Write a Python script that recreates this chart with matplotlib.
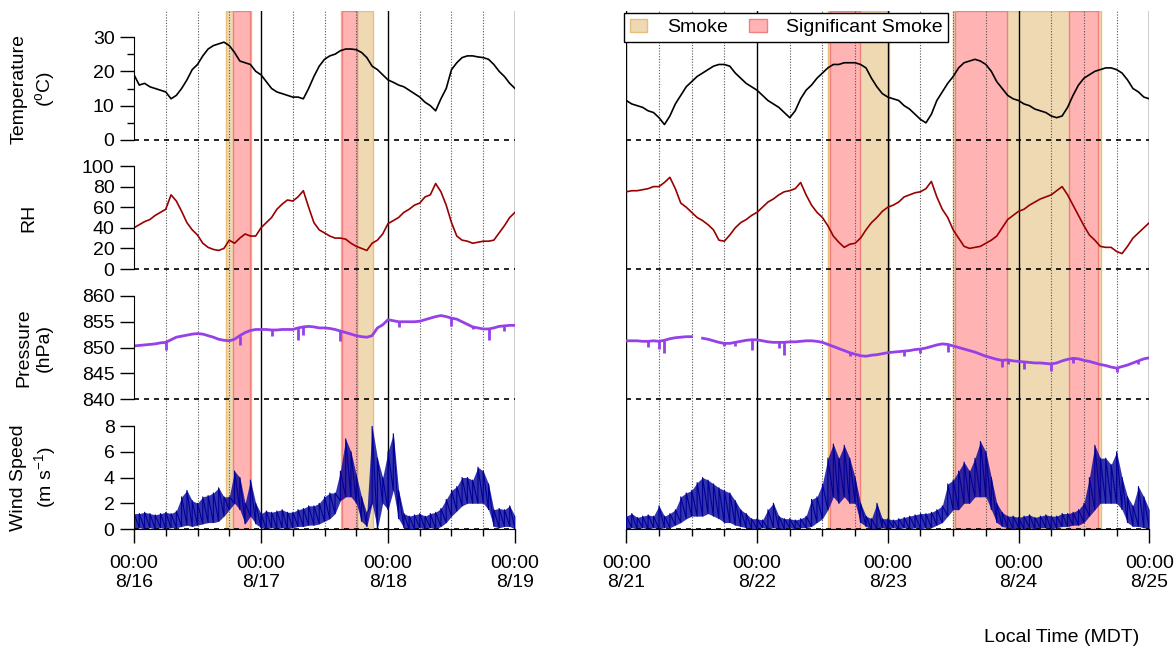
import numpy as np
import matplotlib.pyplot as plt
from matplotlib.patches import Patch

plt.rcParams['font.family'] = ['Liberation Sans', 'DejaVu Sans']
plt.rcParams['mathtext.default'] = 'regular'

# ---- hourly values, 8/16 00:00 - 8/19 00:00 (MDT) ----
temp_l = [19, 16, 16.5, 15.5, 15, 14.5, 14, 12, 13, 15, 17.5, 20.5, 22, 24.5, 26.5, 27.5,
          28, 28.5, 27.5, 25.5, 23, 22.5, 22, 20, 19, 17, 15, 14, 13.5, 13, 12.5, 12.5,
          12, 15, 18.5, 21.5, 23.5, 24.5, 25, 26, 26.5, 26.5, 26.3, 25.5, 24, 21.5, 20.5, 19,
          17.5, 16.8, 16, 15.5, 14.5, 13.5, 12.5, 11, 10, 8.5, 12, 15, 20.5, 22.5,
          24, 24.5, 24.5, 24.2, 24, 23.5, 22, 20, 18.5, 16.5, 15]
rh_l = [40, 43, 46, 48, 52, 55, 58, 72, 66, 56, 45, 38, 33, 25, 21, 19,
        18, 20, 28, 25, 30, 34, 32, 32, 40, 45, 50, 58, 63, 67, 66, 70,
        76, 60, 45, 38, 35, 32, 30, 30, 29, 25, 22, 20, 18, 25, 28, 34,
        44, 47, 50, 55, 58, 62, 64, 70, 72, 83, 75, 62, 45, 32,
        28, 27, 25, 26, 27, 27, 28, 35, 42, 50, 55]
pres_l = [850.3, 850.4, 850.5, 850.6, 850.7, 850.9, 851.0, 851.5, 852.0, 852.2, 852.4, 852.6,
          852.7, 852.6, 852.3, 852.0, 851.6, 851.4, 851.3, 851.6, 852.3, 852.9, 853.3, 853.5,
          853.5, 853.5, 853.4, 853.4, 853.5, 853.5, 853.5, 853.8, 854.0, 854.1, 854.0, 853.8,
          853.8, 853.7, 853.5, 853.2, 852.9, 852.6, 852.3, 852.1, 852.0, 852.3, 853.8, 854.4,
          855.4, 855.2, 855.0, 855.0, 855.0, 855.0, 855.1, 855.4, 855.7, 856.0, 856.2, 856.0,
          855.7, 855.5, 855.0, 854.5, 854.0, 853.8, 853.6, 853.6, 853.8, 854.1, 854.2, 854.3,
          854.3]
pres_dips_l = [(6, 849.5), (20, 850.5), (26, 852.3), (31, 851.5), (32, 852.4), (39, 851.3),
               (50, 854.0), (60, 854.2), (64, 853.5), (67, 851.5), (70, 853.2)]
wind_hi_l = [1.2, 1.2, 1.3, 1.2, 1.1, 1.2, 1.3, 1.2, 1.4, 2.5, 3.0, 2.2, 2.0, 2.5, 2.6, 2.8,
             3.2, 2.5, 2.5, 4.5, 4.0, 2.0, 3.8, 2.0, 1.2, 1.4, 1.3, 1.4, 1.5, 1.3, 1.3, 1.5,
             1.6, 1.8, 1.8, 2.0, 2.5, 2.8, 2.8, 4.5, 7.0, 6.0, 4.2, 2.5, 1.2, 8.0, 5.5, 4.0,
             6.0, 7.4, 3.0, 1.2, 1.0, 1.1, 1.2, 1.0, 1.2, 1.3, 1.6, 2.3, 3.0, 3.3,
             4.0, 4.0, 3.8, 4.8, 4.5, 3.5, 1.5, 1.6, 1.5, 1.8, 1.0]
wind_lo_l = [0.0, 0.1, 0.0, 0.1, 0.0, 0.1, 0.0, 0.1, 0.1, 0.2, 0.3, 0.2, 0.3, 0.4, 0.5, 0.5,
             0.6, 1.0, 1.5, 2.0, 1.5, 0.4, 1.0, 0.4, 0.1, 0.0, 0.1, 0.0, 0.1, 0.0, 0.1, 0.2,
             0.2, 0.3, 0.3, 0.4, 0.6, 0.8, 1.2, 2.2, 2.5, 2.5, 2.0, 0.6, 0.2, 2.0, 0.0, 2.0,
             1.5, 3.0, 0.8, 0.1, 0.0, 0.0, 0.1, 0.0, 0.1, 0.0, 0.2, 0.5, 1.0, 1.4,
             1.8, 2.0, 2.0, 2.0, 2.0, 1.5, 0.2, 0.1, 0.2, 0.2, 0.0]

# ---- hourly values, 8/21 00:00 - 8/25 00:00 (MDT) ----
temp_r = [11.5, 10.5, 10, 9.5, 8.5, 8, 6.5, 4.5, 7, 10.5, 13, 15.5, 17, 18.5, 19.5, 20.5,
          21.5, 22, 22, 21.5, 19.5, 18, 16.5, 15.5, 14.5, 13, 11.5, 10.5, 9.5, 8, 6.5, 8.5,
          12, 14.5, 16, 18, 19.5, 21, 22, 22, 22.5, 22.5, 22.5, 22, 21, 18, 15.5, 13.5,
          12.5, 12, 11.5, 10, 9, 7.5, 6, 5, 7.5, 11.5, 14, 16.5, 18.5, 21, 22.5, 23,
          23.5, 23, 22, 20, 17, 15, 13, 12, 11.5, 10.5, 10, 9, 8.5, 8, 7, 6.5,
          7, 9.5, 13, 16, 18, 19, 20, 20.5, 21, 21, 20.5, 19.5, 17.5, 15, 14, 12.5, 12]
rh_r = [75, 76, 76, 77, 78, 80, 80, 84, 89, 78, 64, 60, 55, 50, 47, 43,
        38, 28, 27, 33, 40, 45, 48, 52, 55, 60, 65, 68, 72, 75, 76, 78,
        84, 72, 62, 55, 50, 42, 32, 26, 21, 24, 25, 30, 38, 45, 50, 56,
        60, 62, 65, 70, 72, 74, 75, 78, 85, 70, 58, 50, 38, 30, 22, 20,
        21, 22, 25, 28, 32, 40, 48, 52, 56, 58, 62, 65, 68, 70, 72, 76,
        80, 72, 62, 52, 42, 33, 28, 22, 21, 21, 17, 15, 22, 30, 35, 40, 45]
pres_r = [851.3, 851.3, 851.3, 851.2, 851.2, 851.3, 851.2, 851.4, 851.7, 851.9, 852.0, 852.1,
          852.1, np.nan, 851.8, 851.6, 851.3, 851.0, 850.8, 850.8, 851.0, 851.2, 851.4, 851.5,
          851.5, 851.3, 851.1, 851.0, 851.0, 851.0, 851.1, 851.1, 851.2, 851.3, 851.3, 851.2,
          851.0, 850.6, 850.2, 849.8, 849.4, 849.0, 848.7, 848.4, 848.3, 848.5, 848.6, 848.8,
          849.0, 849.1, 849.2, 849.3, 849.4, 849.6, 849.7, 849.9, 850.2, 850.5, 850.7, 850.6,
          850.3, 850.0, 849.7, 849.4, 849.1, 848.7, 848.3, 848.0, 847.7, 847.5, 847.6, 847.4,
          847.3, 847.2, 847.1, 847.0, 847.0, 846.9, 846.8, 847.0, 847.4, 847.7, 847.9, 847.8,
          847.5, 847.3, 847.0, 846.7, 846.5, 846.2, 846.0, 846.3, 846.6, 847.0, 847.4, 847.8,
          848.0]
pres_dips_r = [(4, 850.1), (6, 849.7), (7, 848.9), (18, 850.2), (20, 850.3), (23, 849.5),
               (28, 850.0), (29, 848.5), (41, 848.3), (51, 848.3), (54, 849.0), (59, 849.2),
               (69, 846.3), (70, 846.8), (73, 845.8), (78, 845.5), (82, 847.0), (90, 845.3),
               (94, 846.8)]
wind_hi_r = [1.0, 1.2, 0.9, 1.0, 1.1, 1.0, 1.8, 1.0, 1.2, 1.5, 2.5, 2.8, 3.0, 3.6, 4.0, 3.8,
             3.5, 3.2, 3.0, 2.8, 2.2, 1.5, 1.2, 0.8, 0.8, 0.7, 1.5, 2.0, 1.0, 0.8, 0.8, 0.7,
             0.8, 1.0, 2.3, 2.5, 3.5, 5.5, 6.6, 5.5, 6.5, 5.5, 4.0, 2.0, 1.0, 0.8, 2.0, 0.8,
             0.8, 0.7, 0.8, 0.9, 1.0, 1.1, 1.2, 1.2, 1.3, 1.5, 1.8, 3.5, 3.8, 4.5, 5.2, 4.5,
             5.5, 6.8, 6.0, 4.0, 2.0, 1.3, 1.0, 1.0, 0.9, 1.0, 1.1, 0.9, 1.0, 1.1, 1.0, 1.0,
             1.2, 1.2, 1.3, 1.5, 2.0, 4.0, 6.5, 5.5, 5.5, 5.0, 6.0, 4.0, 2.5, 1.8, 3.3, 2.5, 1.5]
wind_lo_r = [0.0, 0.1, 0.0, 0.1, 0.0, 0.1, 0.0, 0.1, 0.1, 0.3, 0.5, 0.8, 1.0, 1.0, 1.0, 1.2,
             1.0, 0.8, 0.5, 0.5, 0.3, 0.2, 0.1, 0.0, 0.0, 0.1, 0.0, 0.1, 0.0, 0.0, 0.1, 0.0,
             0.1, 0.1, 0.2, 0.5, 0.8, 1.5, 2.5, 2.0, 2.5, 2.0, 2.0, 0.5, 0.2, 0.0, 0.0, 0.1,
             0.0, 0.1, 0.0, 0.1, 0.0, 0.1, 0.0, 0.1, 0.1, 0.3, 0.5, 1.0, 1.5, 1.5, 2.0, 2.0,
             2.5, 2.5, 2.5, 1.5, 0.5, 0.2, 0.1, 0.0, 0.1, 0.0, 0.1, 0.0, 0.1, 0.1, 0.0, 0.1,
             0.2, 0.2, 0.3, 0.3, 0.5, 1.0, 1.5, 2.0, 2.0, 2.0, 2.0, 1.5, 0.5, 0.2, 0.2, 0.1, 0.0]

# smoke periods (hours from start of each window)
smoke_l = [(17.4, 22.2), (39.1, 45.1)]
sig_smoke_l = [(18.8, 21.9), (39.4, 42.2)]
smoke_r = [(37.0, 48.2), (60.0, 87.1)]
sig_smoke_r = [(37.3, 42.9), (60.3, 69.8), (81.2, 86.6)]

days_l = ['8/16', '8/17', '8/18', '8/19']
days_r = ['8/21', '8/22', '8/23', '8/24', '8/25']

ylabels = ['Temperature\n($^o$C)', 'RH', 'Pressure\n(hPa)', 'Wind Speed\n(m s$^{-1}$)']
ylabel_x = [34, 29, 34, 34]
ylims = [(0, 30), (0, 100), (840, 860), (0, 8)]
yticks = [[0, 10, 20, 30], [0, 20, 40, 60, 80, 100], [840, 845, 850, 855, 860], [0, 2, 4, 6, 8]]
line_colors = ['black', '#990000', '#9640E8', '#000099']

TAN, TAN_EDGE = '#EED9B3', '#E8BE78'
PINK, PINK_EDGE = '#FFB3B3', '#F08080'
FS = 14

W, H = 1175, 650
fig = plt.figure(figsize=(W / 100, H / 100), dpi=100)

# panel rows in pixels from the top: (top, bottom)
rows = [(37, 140), (166, 269), (296, 399), (426, 529)]


def box(x0, x1, top, bot):
    return [x0 / W, 1 - bot / H, (x1 - x0) / W, (bot - top) / H]


def draw_window(x0, x1, days, smoke, sig, temp, rh, pres, dips, w_lo, w_hi, left_axis):
    nh = 24 * (len(days) - 1)
    hrs = np.arange(len(temp))

    # background: time axis, smoke shading, 6-hourly grid
    bg = fig.add_axes(box(x0, x1, 11, 529))
    bg.set_xlim(0, nh)
    bg.set_ylim(0, 1)
    for s in ['top', 'right', 'left']:
        bg.spines[s].set_visible(False)
    bg.set_yticks([])
    bg.set_xticks(np.arange(0, nh + 1, 24))
    bg.set_xticklabels(['00:00\n' + d for d in days], linespacing=1.1)
    bg.set_xticks(np.arange(0, nh + 1, 6), minor=True)
    bg.tick_params(axis='x', which='major', length=10, width=1, pad=9, labelsize=FS)
    bg.tick_params(axis='x', which='minor', length=5, width=1)
    for a, b in smoke:
        bg.axvspan(a, b, fc=TAN, ec=TAN_EDGE, lw=1, zorder=1)
    for a, b in sig:
        bg.axvspan(a, b, fc=PINK, ec=PINK_EDGE, lw=1, zorder=1.1)
    first = 6 if left_axis else 0
    for h in range(first, nh + 1, 6):
        if h % 24 == 0:
            bg.axvline(h, color='black', lw=1, zorder=2)
        else:
            bg.axvline(h, color='#555555', lw=0.8, ls=(0, (1, 1.5)), zorder=2)

    # one axes per variable
    for i, (top, bot) in enumerate(rows):
        ax = fig.add_axes(box(x0, x1, top, bot))
        ax.patch.set_visible(False)
        ax.set_xlim(0, nh)
        ax.set_ylim(*ylims[i])
        ax.set_xticks([])
        for s in ['top', 'right', 'bottom']:
            ax.spines[s].set_visible(False)
        if left_axis:
            ax.set_yticks(yticks[i])
            ax.tick_params(axis='y', length=10, width=1, pad=4, labelsize=FS)
            if i == 0:
                ax.set_yticks([5, 15, 25], minor=True)
                ax.tick_params(axis='y', which='minor', length=5, width=1)
            fig.text(ylabel_x[i] / W, 1 - (top + bot) / 2 / H, ylabels[i], rotation=90,
                     ha='center', va='center', ma='center', fontsize=FS, linespacing=1.3)
        else:
            ax.spines['left'].set_visible(False)
            ax.set_yticks([])
        ax.axhline(ylims[i][0], color='black', lw=1.2, ls=(0, (3, 3)), clip_on=False)

        if i == 0:
            ax.plot(hrs, temp, color=line_colors[0], lw=1.2)
        elif i == 1:
            ax.plot(hrs, rh, color=line_colors[1], lw=1.2)
        elif i == 2:
            ax.plot(hrs, pres, color=line_colors[2], lw=2)
            for h, low in dips:
                ax.vlines(h, low, pres[h], color=line_colors[2], lw=2)
        else:
            # hourly low/high of the wind record, drawn as a spiky trace
            ax.fill_between(hrs, w_lo, w_hi, color=line_colors[3], lw=0, alpha=0.8)
            xs = np.repeat(hrs, 2)
            ys = np.column_stack([w_lo, w_hi]).ravel()
            ax.plot(xs, ys, color=line_colors[3], lw=0.8)


draw_window(134, 515, days_l, smoke_l, sig_smoke_l, temp_l, rh_l, pres_l, pres_dips_l,
            wind_lo_l, wind_hi_l, True)
draw_window(626.3, 1149.3, days_r, smoke_r, sig_smoke_r, temp_r, rh_r, pres_r, pres_dips_r,
            wind_lo_r, wind_hi_r, False)

handles = [Patch(fc=TAN, ec=TAN_EDGE, lw=1), Patch(fc=PINK, ec=PINK_EDGE, lw=1)]
leg = fig.legend(handles, ['Smoke', 'Significant Smoke'], loc='upper left',
                 bbox_to_anchor=(624 / W, 1 - 13 / H), ncol=2, fontsize=FS,
                 frameon=True, fancybox=False, framealpha=1, edgecolor='black',
                 borderpad=0.3, handlelength=0.9, handleheight=0.7,
                 handletextpad=1.0, columnspacing=1.1, borderaxespad=0)
leg.get_frame().set_linewidth(1)

fig.text(1062 / W, 1 - 638 / H, 'Local Time (MDT)', ha='center', va='center', fontsize=FS)

fig.savefig('out.png', dpi=100)
